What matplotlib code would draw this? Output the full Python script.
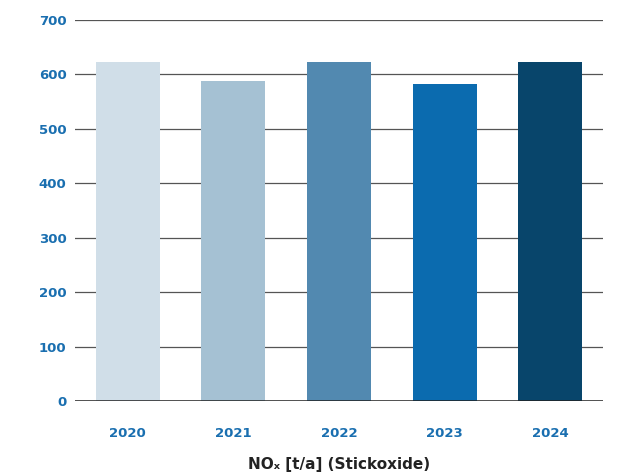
import matplotlib.pyplot as plt

# Daten
jahre = ["2020", "2021", "2022", "2023", "2024"]
werte = [623, 588, 623, 582, 623]
farben = ["#d0dee8", "#a5c1d3", "#5289b0", "#0b6baf", "#08456b"]
y_ticks = [0, 100, 200, 300, 400, 500, 600, 700]

plt.rcParams['font.family'] = ['DejaVu Sans']
blau = "#1a6fb0"

fig = plt.figure(figsize=(6.27, 4.75), dpi=100)
ax = fig.add_axes([75/627, 1-401/475, 528/627, 381/475])

# Gitterlinien
for t in y_ticks[1:]:
    ax.axhline(t, color="#555555", linewidth=0.9, zorder=0)

ax.bar(range(len(jahre)), werte, width=0.606, color=farben, zorder=2)
ax.axhline(0, color="#222222", linewidth=1.1, zorder=3)

ax.set_xlim(-0.5, len(jahre) - 0.5)
ax.set_ylim(0, 700)
ax.set_yticks(y_ticks)
ax.set_xticks(range(len(jahre)))
ax.set_xticklabels(jahre)

for s in ax.spines.values():
    s.set_visible(False)
ax.tick_params(axis="both", length=0, colors=blau, labelsize=9.5)
ax.tick_params(axis="y", pad=6)
ax.tick_params(axis="x", pad=19)
for lab in ax.get_xticklabels() + ax.get_yticklabels():
    lab.set_fontweight("bold")

ax.set_xlabel("NOₓ [t/a] (Stickoxide)", fontsize=11, fontweight="bold",
              color="#222222", labelpad=12)

fig.savefig("out.png", dpi=100)
